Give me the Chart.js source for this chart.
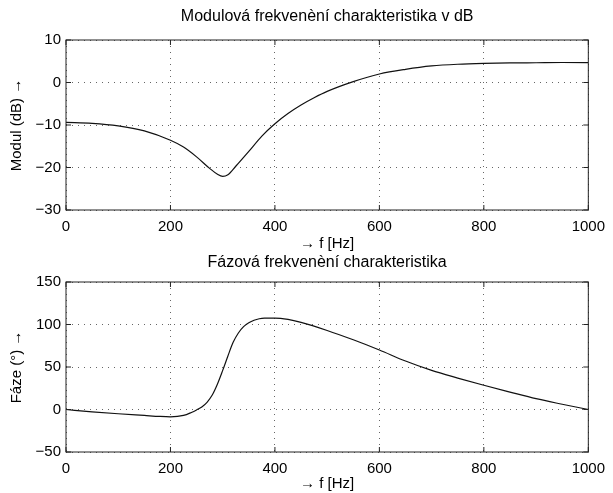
<!DOCTYPE html>
<html>
<head>
<meta charset="utf-8">
<script src="https://cdn.jsdelivr.net/npm/chart.js@4"></script>
<style>
    body { margin: 0; background: #fff; width: 613px; height: 493px; overflow: hidden; position: relative; }
    .box { position: absolute; left: 0; width: 613px; }
    #topBox { top: 0; height: 260px; }
    #botBox { top: 250px; height: 243px; }
</style>
</head>
<body>
<div class="box" id="topBox"><canvas id="magChart"></canvas></div>
<div class="box" id="botBox"><canvas id="phaseChart"></canvas></div>
<script>
// data
const magFreq = [0, 50, 100, 150, 200, 225, 250, 275, 290, 300, 310, 325, 350, 375, 400, 425, 450, 475, 500, 550, 600, 650, 700, 750, 800, 850, 900, 950, 1000];
const magDb = [-9.4, -9.6, -10.2, -11.4, -13.6, -15.2, -17.5, -20.2, -21.6, -22.1, -21.7, -19.7, -16.2, -12.6, -9.7, -7.3, -5.3, -3.6, -2.1, 0.2, 2.0, 3.1, 3.9, 4.3, 4.5, 4.6, 4.65, 4.7, 4.7];

const phaseFreq = [0, 50, 100, 150, 180, 200, 225, 240, 250, 260, 270, 280, 290, 300, 310, 320, 330, 340, 350, 360, 370, 380, 400, 425, 450, 500, 550, 600, 650, 700, 750, 800, 850, 900, 950, 1000];
const phaseDeg = [0, -2.7, -5, -7, -8.2, -8.6, -7, -3.5, -0.5, 3, 8.5, 17, 30, 46, 63, 79, 90, 97.5, 102, 105, 106.8, 107.5, 107.6, 106, 102.5, 93, 82, 70, 57, 46, 37, 28.5, 20.5, 12.7, 6.2, 0];

const xTicks = [0, 200, 400, 600, 800, 1000];
const magTicks = [-30, -20, -10, 0, 10];
const phaseTicks = [-50, 0, 50, 100, 150];

const font = { family: "'Liberation Sans', Arial, sans-serif", size: 15 };

// full box with inward ticks, like matlab
const framePlugin = {
    id: "frame",
    afterDatasetsDraw(chart) {
        const { ctx, chartArea: a, scales } = chart;
        ctx.save();
        ctx.strokeStyle = "#222";
        ctx.lineWidth = 1;
        ctx.strokeRect(a.left, a.top, a.right - a.left, a.bottom - a.top);
        ctx.beginPath();
        scales.x.ticks.forEach(t => {
            const x = scales.x.getPixelForValue(t.value);
            ctx.moveTo(x, a.bottom); ctx.lineTo(x, a.bottom - 5);
            ctx.moveTo(x, a.top); ctx.lineTo(x, a.top + 5);
        });
        scales.y.ticks.forEach(t => {
            const y = scales.y.getPixelForValue(t.value);
            ctx.moveTo(a.left, y); ctx.lineTo(a.left + 5, y);
            ctx.moveTo(a.right, y); ctx.lineTo(a.right - 5, y);
        });
        ctx.stroke();
        ctx.restore();
    }
};

function makeChart(id, freq, vals, yTicks, opts) {
    return new Chart(document.getElementById(id), {
        type: "line",
        data: {
            datasets: [{
                data: freq.map((f, i) => ({ x: f, y: vals[i] })),
                borderColor: "#111",
                borderWidth: 1.2,
                pointRadius: 0,
                cubicInterpolationMode: "monotone",
            }],
        },
        options: {
            responsive: true,
            maintainAspectRatio: false,
            animation: false,
            layout: { padding: { left: 0, right: 19, top: 0, bottom: 0 } },
            plugins: {
                legend: { display: false },
                tooltip: { enabled: false },
                title: {
                    display: true,
                    fullSize: false,
                    text: opts.title,
                    color: "#000",
                    font: { ...font, size: 16, weight: "normal" },
                    padding: opts.titlePad,
                },
            },
            scales: {
                x: {
                    type: "linear",
                    min: 0,
                    max: 1000,
                    afterBuildTicks: s => { s.ticks = xTicks.map(v => ({ value: v })); },
                    afterFit: s => { s.height = opts.xHeight; },
                    grid: { color: "#666", drawTicks: false },
                    border: { display: false, dash: [1, 5] },
                    ticks: { color: "#000", font, padding: 8, maxRotation: 0, callback: v => String(v) },
                    title: { display: true, text: "→ f [Hz]", color: "#000", font, padding: opts.xTitlePad },
                },
                y: {
                    min: yTicks[0],
                    max: yTicks[yTicks.length - 1],
                    afterBuildTicks: s => { s.ticks = yTicks.map(v => ({ value: v })); },
                    afterFit: s => { s.width = 66; },
                    grid: { color: "#666", drawTicks: false },
                    border: { display: false, dash: [1, 5] },
                    ticks: {
                        color: "#000",
                        font,
                        padding: 5,
                        callback: v => String(v).replace("-", "\u2212"),
                    },
                    title: { display: true, text: opts.yTitle, color: "#000", font, padding: 8 },
                },
            },
        },
        plugins: [framePlugin],
    });
}

makeChart("magChart", magFreq, magDb, magTicks, {
    title: "Modulová frekvenèní charakteristika v dB",
    titlePad: { top: 7.4, bottom: 13.4 },
    xHeight: 50,
    xTitlePad: { top: 7, bottom: 7 },
    yTitle: "Modul (dB) →",
});

makeChart("phaseChart", phaseFreq, phaseDeg, phaseTicks, {
    title: "Fázová frekvenèní charakteristika",
    titlePad: { top: 3.4, bottom: 9.4 },
    xHeight: 41,
    xTitlePad: { top: 0, bottom: 0 },
    yTitle: "Fáze (°) →",
});
</script>
</body>
</html>
